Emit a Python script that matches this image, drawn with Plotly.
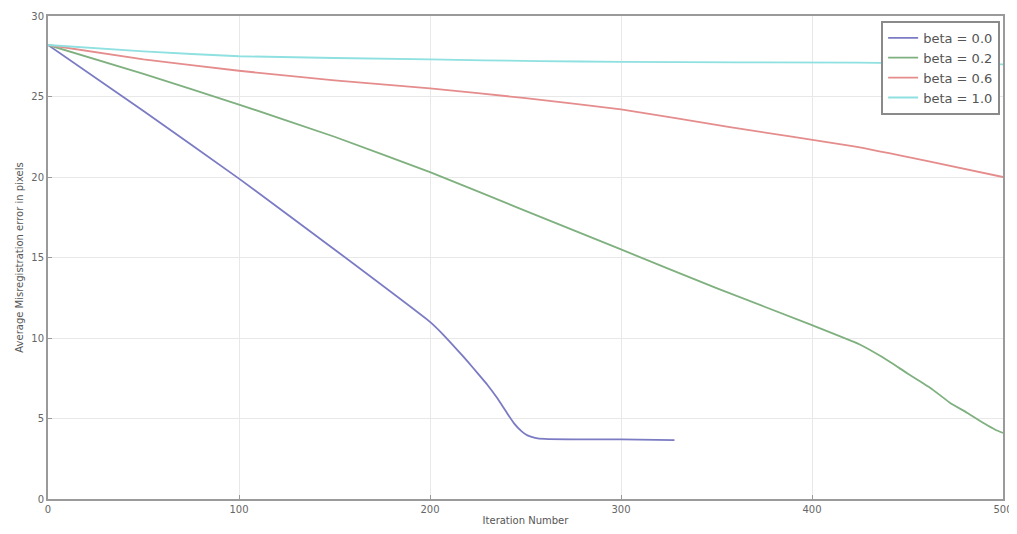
import plotly.graph_objects as go

# Data
beta00_x = [0, 50, 100, 150, 200, 207, 214, 220, 225, 230, 235, 240, 244, 248, 251, 255, 260, 280, 300, 328]
beta00_y = [28.2, 24.1, 19.9, 15.5, 11.0, 10.2, 9.3, 8.5, 7.8, 7.1, 6.3, 5.4, 4.7, 4.2, 3.95, 3.8, 3.73, 3.7, 3.7, 3.66]

beta02_x = [0, 50, 100, 150, 200, 250, 300, 350, 400, 425, 437, 450, 462, 472, 482, 490, 496, 500]
beta02_y = [28.2, 26.4, 24.5, 22.5, 20.3, 17.9, 15.5, 13.1, 10.8, 9.6, 8.8, 7.8, 6.9, 6.0, 5.3, 4.7, 4.3, 4.1]

beta06_x = [0, 50, 100, 150, 200, 250, 300, 357, 422, 460, 500]
beta06_y = [28.2, 27.3, 26.6, 26.0, 25.5, 24.9, 24.2, 23.1, 21.9, 21.0, 20.0]

beta10_x = [0, 50, 100, 200, 257, 300, 424, 500]
beta10_y = [28.2, 27.8, 27.5, 27.3, 27.2, 27.15, 27.1, 27.0]

series_names = ["beta = 0.0", "beta = 0.2", "beta = 0.6", "beta = 1.0"]
series_colors = ["#7b7bc4", "#7fb07f", "#e58c8c", "#8fe0e0"]

x_ticks = [0, 100, 200, 300, 400, 500]
y_ticks = [0, 5, 10, 15, 20, 25, 30]

fig = go.Figure()
for xs, ys, name, col in zip(
    [beta00_x, beta02_x, beta06_x, beta10_x],
    [beta00_y, beta02_y, beta06_y, beta10_y],
    series_names, series_colors):
    fig.add_trace(go.Scatter(x=xs, y=ys, mode="lines", name=name,
                             line=dict(color=col, width=1.8, shape="spline", smoothing=0.4)))

axis_common = dict(
    showline=True, mirror=True, linecolor="#9a9a9a", linewidth=2,
    showgrid=True, gridcolor="#e8e8e8", gridwidth=1,
    zeroline=False, ticks="inside", ticklen=4, tickcolor="#9a9a9a",
    tickfont=dict(family="DejaVu Sans", size=10, color="#666666"),
    automargin=False,
)

fig.update_xaxes(range=[0, 500], tickvals=x_ticks, ticktext=[str(v) for v in x_ticks],
                 title=dict(text="Iteration Number", font=dict(family="DejaVu Sans", size=10, color="#555555"),
                            standoff=4),
                 **axis_common)
fig.update_yaxes(range=[0, 30], tickvals=y_ticks, ticktext=[str(v) for v in y_ticks],
                 title=dict(text="Average Misregistration error in pixels",
                            font=dict(family="DejaVu Sans", size=10, color="#555555"), standoff=6),
                 **axis_common)

# page body has an 8px default margin, so the figure is sized/offset to compensate
fig.update_layout(
    width=1009, height=518,
    margin=dict(l=40, r=14, t=8, b=27),
    paper_bgcolor="white", plot_bgcolor="white",
    showlegend=True,
    legend=dict(x=0.997, y=0.99, xanchor="right", yanchor="top",
                bgcolor="white", bordercolor="#8a8a8a", borderwidth=2,
                font=dict(family="DejaVu Sans", size=13, color="#555555"),
                tracegroupgap=0, itemwidth=30),
)

fig.write_html("out.html")
